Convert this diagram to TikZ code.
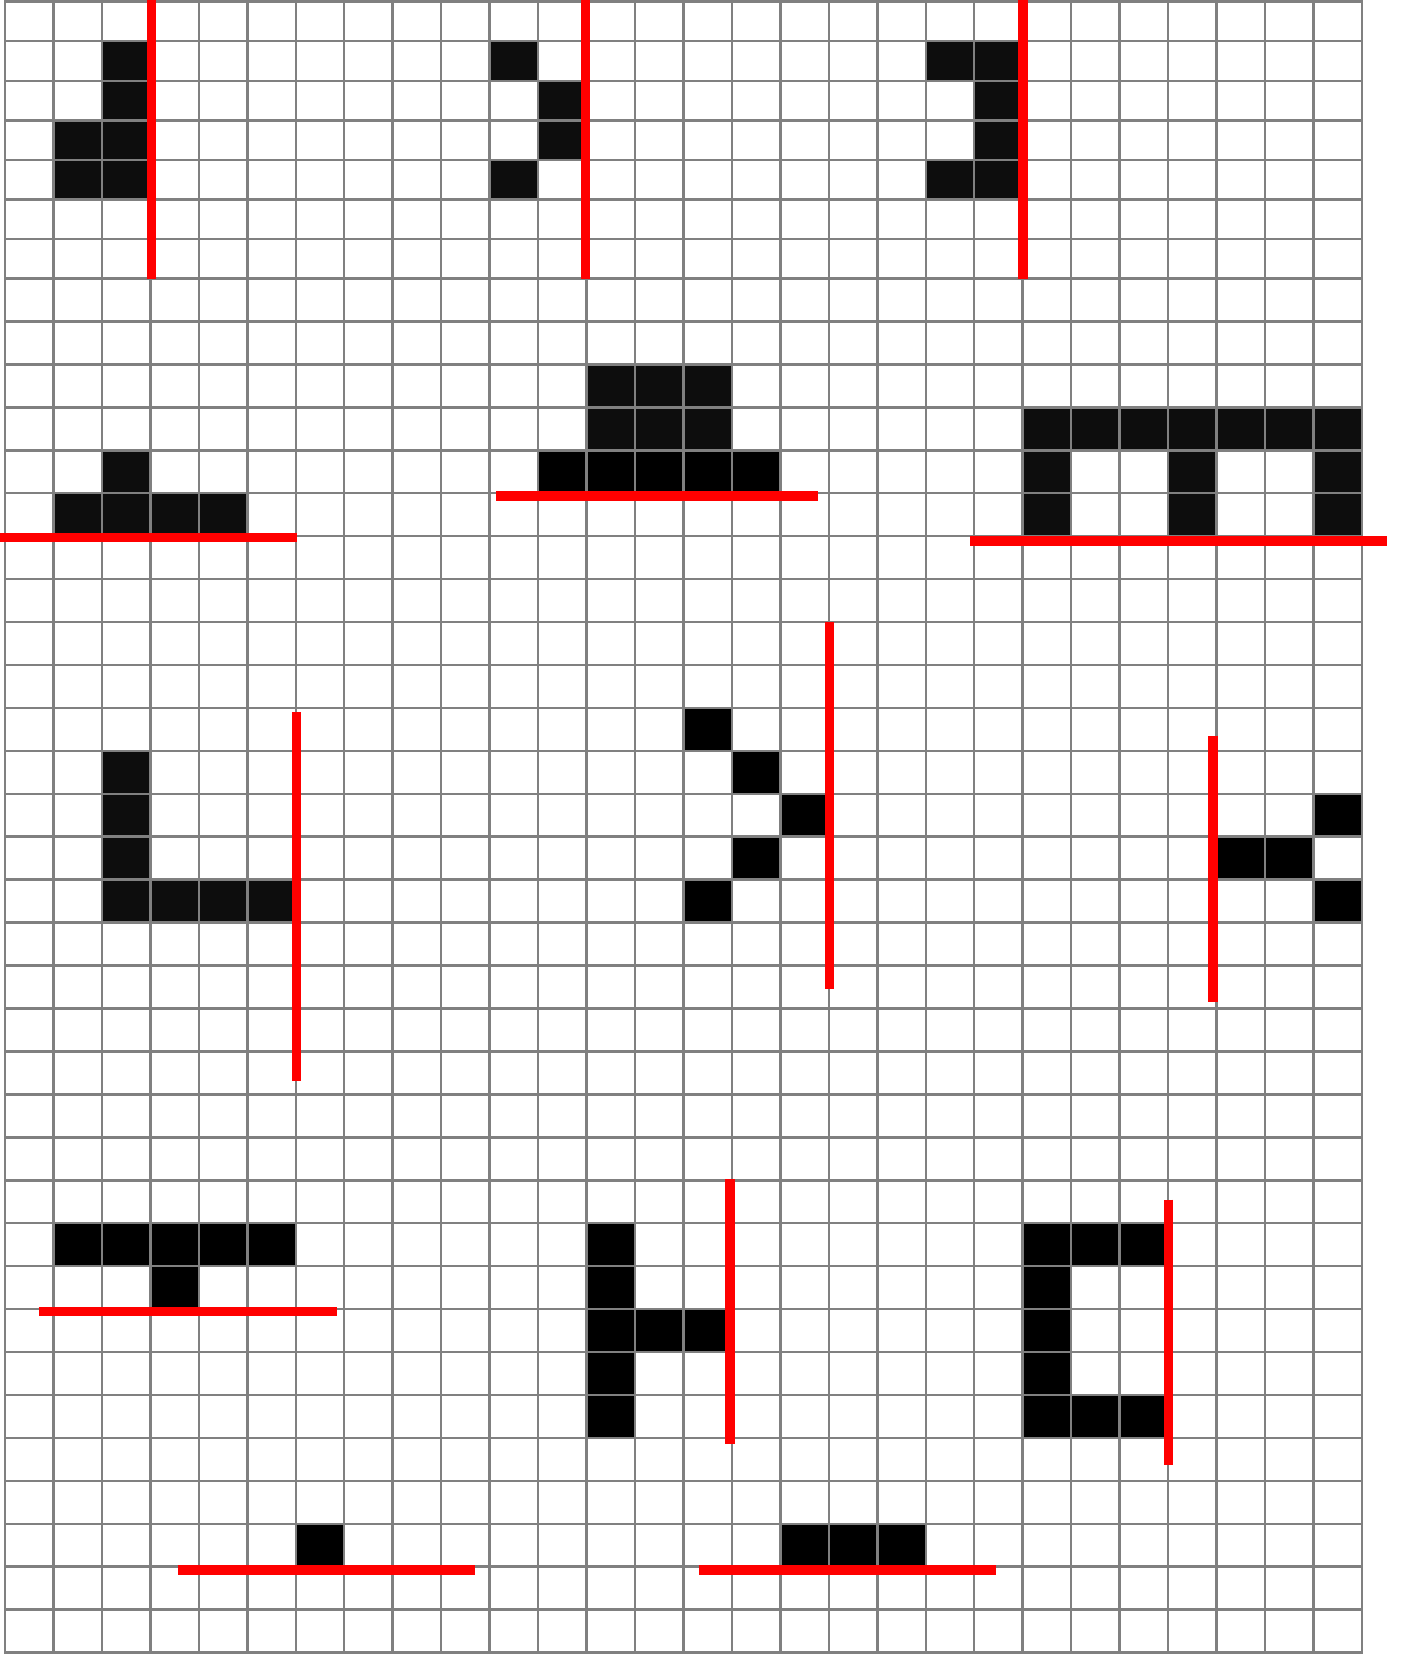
\documentclass[tikz,border=0pt]{standalone}
\usepackage{xcolor}
\usepackage{tikz}
\definecolor{gridgray}{RGB}{128,128,128}
\definecolor{cellblack}{RGB}{13,13,13}
\definecolor{markred}{RGB}{255,0,0}

% one filled square of the grid: column, row
\newcommand{\pixel}[3][black]{\fill[#1] ({cx(#2)},{ry(#3)}) rectangle ({cx(#2+1)},{ry(#3+1)});}

\begin{document}
\begin{tikzpicture}[
    x=1pt, y=-1pt,
    declare function={cx(\c)=5+48.46*\c; ry(\r)=ifthenelse(\r<7,1.7+39.54*\r,278.5+42.94*(\r-7));},
    gridline/.style={draw=gridgray, line width=2.5pt, line cap=rect},
    redbar/.style={draw=markred, line width=9.5pt}
]
\useasboundingbox (0,0) rectangle (1404,1654);

% top band
\foreach \c/\r in {2/1,2/2,1/3,2/3,1/4,2/4} {\pixel[cellblack]{\c}{\r}}
\foreach \c/\r in {10/1,11/2,11/3,10/4} {\pixel[cellblack]{\c}{\r}}
\foreach \c/\r in {19/1,20/1,20/2,20/3,19/4,20/4} {\pixel[cellblack]{\c}{\r}}

% second band
\foreach \c/\r in {2/11,1/12,2/12,3/12,4/12} {\pixel[cellblack]{\c}{\r}}
\foreach \c/\r in {12/9,13/9,14/9,12/10,13/10,14/10} {\pixel[cellblack]{\c}{\r}}
\foreach \c in {11,...,15} {\pixel{\c}{11}}
\foreach \c in {21,...,27} {\pixel[cellblack]{\c}{10}}
\foreach \c/\r in {21/11,24/11,27/11,21/12,24/12,27/12} {\pixel[cellblack]{\c}{\r}}

% third band
\foreach \c/\r in {2/18,2/19,2/20,2/21,3/21,4/21,5/21} {\pixel[cellblack]{\c}{\r}}
\foreach \c/\r in {14/17,15/18,16/19,15/20,14/21} {\pixel{\c}{\r}}
\foreach \c/\r in {27/19,25/20,26/20,27/21} {\pixel{\c}{\r}}

% fourth band
\foreach \c/\r in {1/29,2/29,3/29,4/29,5/29,3/30} {\pixel{\c}{\r}}
\foreach \c/\r in {12/29,12/30,12/31,13/31,14/31,12/32,12/33} {\pixel{\c}{\r}}
\foreach \c/\r in {21/29,22/29,23/29,21/30,21/31,21/32,21/33,22/33,23/33} {\pixel{\c}{\r}}

% bottom band
\pixel{6}{36}
\foreach \c in {16,17,18} {\pixel{\c}{36}}

% grid
\foreach \c in {0,...,28} \draw[gridline] ({cx(\c)},{ry(0)}) -- ({cx(\c)},{ry(39)});
\foreach \r in {0,...,39} \draw[gridline] ({cx(0)},{ry(\r)}) -- ({cx(28)},{ry(\r)});

% red marks
\draw[redbar] (151.7,0) -- (151.7,{ry(7)});
\draw[redbar] (585.5,0) -- (585.5,{ry(7)});
\draw[redbar] (1023.2,0) -- (1023.2,{ry(7)});
\draw[redbar] (0,537.5) -- (296.7,537.5);
\draw[redbar] (496,496) -- (818,496);
\draw[redbar] (970,541) -- (1387,541);
\draw[redbar] (296.5,712) -- (296.5,1081);
\draw[redbar] (829.5,622) -- (829.5,989);
\draw[redbar] (1213,735.5) -- (1213,1002);
\draw[redbar] (38.6,1311.3) -- (337.2,1311.3);
\draw[redbar] (730,1179.3) -- (730,1444);
\draw[redbar] (1168.3,1199.7) -- (1168.3,1465);
\draw[redbar] (177.6,1570) -- (474.9,1570);
\draw[redbar] (698.8,1570) -- (996.1,1570);
\end{tikzpicture}
\end{document}
